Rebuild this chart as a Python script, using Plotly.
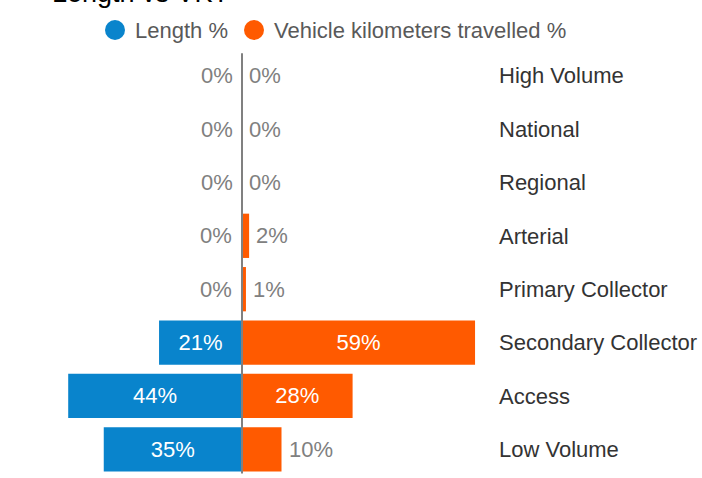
import plotly.graph_objects as go

categories = ["High Volume", "National", "Regional", "Arterial", "Primary Collector",
              "Secondary Collector", "Access", "Low Volume"]
length_pct = [0.0, 0.0, 0.0, 0.2, 0.2, 21, 44, 35]
vkt_pct = [0.0, 0.0, 0.0, 1.8, 1.0, 59, 28, 10]
series_names = ["Length %", "Vehicle kilometers travelled %"]

BLUE = "#0984CC"
ORANGE = "#FF5A00"
FONT = "Liberation Sans, Arial, sans-serif"
INSIDE_MIN = 15

W, H = 702, 478
L, R, T, B = 50, 212, 49, 2
PW, PH = W - L - R, H - T - B


def px_to_paper_x(px):
    return (px - L) / PW


def px_to_paper_y(py):
    return 1 - (py - T) / PH


fig = go.Figure()

# bars
fig.add_trace(go.Bar(
    y=categories, x=[-v for v in length_pct], orientation="h",
    marker=dict(color=BLUE, line=dict(width=0)),
    text=[f"{v:.0f}%" if v >= INSIDE_MIN else "" for v in length_pct],
    textposition="inside", insidetextanchor="middle", constraintext="none",
    insidetextfont=dict(color="white", size=22, family=FONT),
    showlegend=False, hoverinfo="skip",
))
fig.add_trace(go.Bar(
    y=categories, x=vkt_pct, orientation="h",
    marker=dict(color=ORANGE, line=dict(width=0)),
    text=[f"{v:.0f}%" if v >= INSIDE_MIN else "" for v in vkt_pct],
    textposition="inside", insidetextanchor="middle", constraintext="none",
    insidetextfont=dict(color="white", size=22, family=FONT),
    showlegend=False, hoverinfo="skip",
))

# outside labels (annotations placed in data coordinates)
for c, v in zip(categories, length_pct):
    if v < INSIDE_MIN:
        fig.add_annotation(x=-v, y=c, xref="x", yref="y", text=f"{v:.0f}%",
                           showarrow=False, xanchor="right", yanchor="middle", xshift=-7,
                           font=dict(color="#808080", size=22, family=FONT))
for c, v in zip(categories, vkt_pct):
    if v < INSIDE_MIN:
        fig.add_annotation(x=v, y=c, xref="x", yref="y", text=f"{v:.0f}%",
                           showarrow=False, xanchor="left", yanchor="middle", xshift=5,
                           font=dict(color="#808080", size=22, family=FONT))

# zero line on top of bars
fig.add_shape(type="line", xref="x", yref="paper", x0=0, x1=0, y0=0.006, y1=0.99,
              line=dict(color="#808080", width=2), layer="above")

# manual legend (circle markers)
legend_items = [(series_names[0], BLUE, 115, 133), (series_names[1], ORANGE, 254, 272)]
ly = 30
for name, col, cx, tx in legend_items:
    fig.add_shape(type="circle", xref="paper", yref="paper",
                  xsizemode="pixel", ysizemode="pixel",
                  xanchor=px_to_paper_x(cx), yanchor=px_to_paper_y(ly),
                  x0=-10, x1=10, y0=-10, y1=10,
                  fillcolor=col, line=dict(width=0), layer="above")
    fig.add_annotation(text=name, xref="paper", yref="paper",
                       x=px_to_paper_x(tx), y=px_to_paper_y(ly + 1),
                       xanchor="left", yanchor="middle", showarrow=False,
                       font=dict(size=22, color="#595959", family=FONT))

# title (mostly cut off at top in the reference)
fig.add_annotation(text="Length vs VKT", xref="paper", yref="paper",
                   x=px_to_paper_x(50), y=px_to_paper_y(10), xanchor="left", yanchor="bottom",
                   showarrow=False, font=dict(size=27, color="#000000", family=FONT))

fig.update_layout(
    width=W, height=H,
    margin=dict(l=L, r=R, t=T, b=B, autoexpand=False),
    paper_bgcolor="white", plot_bgcolor="white",
    barmode="relative", bargap=0.17,
    font=dict(family=FONT),
    showlegend=False,
    xaxis=dict(visible=False, range=[-(242 - L) / 3.95, (L + PW - 242) / 3.95],
               fixedrange=True),
    yaxis=dict(categoryorder="array", categoryarray=categories, autorange="reversed",
               side="right", showgrid=False, zeroline=False, showline=False, ticks="",
               tickfont=dict(size=22, color="#333333", family=FONT),
               ticklabelstandoff=8, automargin=False, fixedrange=True),
)

fig.write_html("out.html", config={"displayModeBar": False},
               post_script="document.body.style.margin='0';")
